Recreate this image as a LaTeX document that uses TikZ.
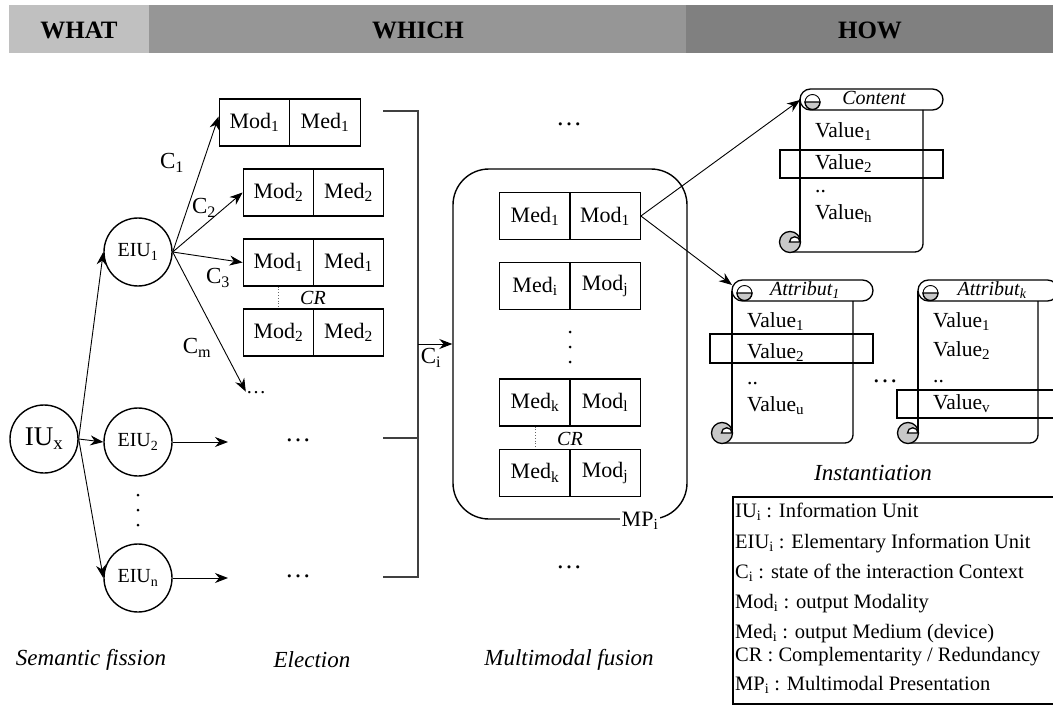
\documentclass[tikz,border=0pt]{standalone}
\usepackage{fontspec}
\setmainfont{Liberation Serif}
\usetikzlibrary{arrows.meta,calc}
\newcommand\fsz[1]{\fontsize{#1}{#1}\selectfont}
\newcommand\sub[1]{\textsubscript{#1}}
\definecolor{bandA}{HTML}{C0C0C0}
\definecolor{bandB}{HTML}{969696}
\definecolor{bandC}{HTML}{808080}
\definecolor{curl}{HTML}{C8C8C8}
% scroll: L T R B CapR
\newcommand\scrollshape[5]{%
  \draw[scrl, rounded corners=10.5pt] (#1,#2) rectangle (#5,#2+21);
  \draw[scrl] (#1,#2+10.5) -- (#1,#4-10);
  \draw[scrl, rounded corners=8pt] (#3,#2+21) -- (#3,#4) -- (#1-10,#4);
  \filldraw[scrl, fill=curl] (#1-10,#4-10) circle[radius=10.5];
  \filldraw[scrl, fill=white] (#1-10.5,#4-10) arc[start angle=180,end angle=360,radius=5.25] -- cycle;
  \draw[line width=0.9pt] (#1+12.5,#2+13) circle[radius=7.5];
  \filldraw[scrl, fill=curl] (#1+5,#2+13) arc[start angle=180,end angle=0,radius=7.5] -- cycle;
}
\begin{document}
\begin{tikzpicture}[x=1pt,y=-1pt,
  cell/.style={draw, line width=1.3pt, minimum width=70.5pt, minimum height=47pt, inner sep=0pt, font=\fsz{22}},
  unit/.style={draw, line width=1.4pt, circle, minimum size=68pt, inner sep=0pt},
  arr/.style={line width=1pt, -{Stealth[length=13pt,width=10pt]}},
  thinarr/.style={line width=0.9pt, -{Stealth[length=13pt,width=10pt]}},
  scrl/.style={line width=1.3pt},
  brk/.style={line width=1.2pt, black!75},
  lbl/.style={font=\fsz{23}, inner sep=0pt},
  captxt/.style={font=\fsz{23}\itshape, inner sep=0pt},
  hdr/.style={font=\fsz{25}\bfseries, inner sep=0pt},
  val/.style={font=\fsz{21.5}, anchor=mid west, inner sep=0pt},
  leg/.style={font=\fsz{20.5}, anchor=mid west, inner sep=0pt},
  dts/.style={font=\fsz{26}, inner sep=0pt},
  crl/.style={font=\fsz{20}\itshape, inner sep=0pt},
  ttl/.style={font=\fsz{20}\itshape, inner sep=0pt},
  hl/.style={line width=1.3pt}
]
\useasboundingbox (0,0) rectangle (1053,706);
% header band
\fill[bandA] (9,5) rectangle (149,53);
\fill[bandB] (149,5) rectangle (686,53);
\fill[bandC] (686,5) rectangle (1053,53);
\node[hdr] (hwhat) at (79,30) {WHAT};
\node[hdr] (hwhich) at (418,30) {WHICH};
\node[hdr] (hhow) at (870,30) {HOW};

% fission
\node[unit, font=\fsz{27}] (iux) at (44,439) {IU\sub{x}};
\node[unit, font=\fsz{20}] (e1) at (138,252) {EIU\sub{1}};
\node[unit, font=\fsz{20}] (e2) at (138,442) {EIU\sub{2}};
\node[unit, font=\fsz{20}] (en) at (138,578) {EIU\sub{n}};
\foreach \yy in {495,510,525} \fill (138,\yy) circle[radius=1.5];
\draw[thinarr] (iux.east) -- (e1.west);
\draw[thinarr] (iux.east) -- (e2.west);
\draw[thinarr] (iux.east) -- (en.west);

% election
\node[cell] (a1l) at (254.5,122.5) {Mod\sub{1}};
\node[cell] (a1r) at (325,122.5) {Med\sub{1}};
\node[cell] (a2l) at (278.5,192.5) {Mod\sub{2}};
\node[cell] (a2r) at (348.5,192.5) {Med\sub{2}};
\node[cell] (a3l) at (278.5,262.5) {Mod\sub{1}};
\node[cell] (a3r) at (348.5,262.5) {Med\sub{1}};
\node[cell] (a4l) at (278.5,332.5) {Mod\sub{2}};
\node[cell] (a4r) at (348.5,332.5) {Med\sub{2}};
\draw[dotted, line width=0.8pt, black!60] (a3l.south) -- (a4l.north);
\node[crl] (cr1) at (313,298) {CR};
\node[dts, font=\fsz{20}] (ed1) at (256,393) {\ldots};
\draw[thinarr] (e1.east) -- ($(a1l.west)+(0,-6)$);
\draw[thinarr] (e1.east) -- (a2l.west);
\draw[thinarr] (e1.east) -- (a3l.west);
\draw[thinarr] (e1.east) -- (ed1.north west);
\node[lbl] (c1) at (172,163) {C\sub{1}};
\node[lbl] (c2) at (204,208) {C\sub{2}};
\node[lbl] (c3) at (218,278) {C\sub{3}};
\node[lbl] (cm) at (197,348) {C\sub{m}};
\coordinate (t2) at (228,442);
\coordinate (tn) at (228,578);
\draw[arr] (e2.east) -- (t2);
\draw[arr] (en.east) -- (tn);
\node[dts] (ed2) at (298,440) {\ldots};
\node[dts] (edn) at (298,576) {\ldots};

% bracket
\coordinate (b1) at (383,111);
\coordinate (b2) at (418,111);
\coordinate (b3) at (418,577);
\coordinate (b4) at (383,577);
\coordinate (b5) at (383,438);
\coordinate (b6) at (418,438);
\coordinate (b7) at (418,344);
\draw[brk] (b1) -- (b2) -- (b3) -- (b4);
\draw[brk] (b5) -- (b6);

% fusion
\node[draw, line width=1.4pt, rounded corners=36pt, minimum width=234pt, minimum height=350pt, inner sep=0pt] (mp) at (570,344) {};
\draw[arr] (b7) -- (mp.west);
\node[lbl] (ci) at (431,358) {C\sub{i}};
\node[font=\fsz{22}, fill=white, inner sep=2pt] (mpl) at (640,521) {MP\sub{i}};
\node[cell] (f1l) at (535,216) {Med\sub{1}};
\node[cell] (f1r) at (605,216) {Mod\sub{1}};
\node[cell] (f2l) at (535,286) {Med\sub{i}};
\node[cell] (f2r) at (605,286) {Mod\sub{j}};
\foreach \yy in {332,347,362} \fill (570,\yy) circle[radius=1.5];
\node[cell] (f3l) at (535,402.5) {Med\sub{k}};
\node[cell] (f3r) at (605,402.5) {Mod\sub{l}};
\node[cell] (f4l) at (535,473) {Med\sub{k}};
\node[cell] (f4r) at (605,473) {Mod\sub{j}};
\draw[dotted, line width=0.8pt, black!60] (f3l.south) -- (f4l.north);
\node[crl] (cr2) at (570,439) {CR};
\node[dts] (fd1) at (569,124) {\ldots};
\node[dts] (fd2) at (569,567) {\ldots};

% instantiation scrolls
\scrollshape{800}{89}{923}{252}{943}
\scrollshape{732}{280}{853}{443}{873}
\scrollshape{918}{280}{1038}{443}{1058}
\coordinate (sc) at (800,100);
\coordinate (sa) at (732,285);
\draw[thinarr] (f1r.east) -- (sc);
\draw[thinarr] (f1r.east) -- (sa);
\node[ttl] (tc) at (874,98) {Content};
\node[ttl] (ta1) at (805,290) {Attribut\sub{1}};
\node[ttl] (tak) at (992,290) {Attribut\sub{k}};
\node[val] (v11) at (815,135) {Value\sub{1}};
\node[val] (v12) at (815,167) {Value\sub{2}};
\node[val] (v13) at (815,190) {..};
\node[val] (v14) at (815,217) {Value\sub{h}};
\node[val] (v21) at (747,325) {Value\sub{1}};
\node[val] (v22) at (747,356) {Value\sub{2}};
\node[val] (v23) at (747,382) {..};
\node[val] (v24) at (747,409) {Value\sub{u}};
\node[val] (v31) at (933,325) {Value\sub{1}};
\node[val] (v32) at (933,354) {Value\sub{2}};
\node[val] (v33) at (933,380) {..};
\node[val] (v34) at (933,407) {Value\sub{v}};
\draw[hl] (780,150) rectangle (943,178);
\draw[hl] (710,334) rectangle (873,363);
\draw[hl] (897,390) rectangle (1058,418);
\node[dts] (sd) at (885,381) {\ldots};

% captions
\node[captxt] (k1) at (91,660) {Semantic fission};
\node[captxt] (k2) at (312,660) {Election};
\node[captxt] (k3) at (569,660) {Multimodal fusion};
\node[captxt] (k4) at (873,473) {Instantiation};

% legend
\draw[line width=1.3pt] (1053,497) -- (733,497) -- (733,704) -- (1053,704);
\node[leg] (l1) at (735,515) {IU\sub{i} : Information Unit};
\node[leg] (l2) at (735,546) {EIU\sub{i} : Elementary Information Unit};
\node[leg] (l3) at (735,576) {C\sub{i} : state of the interaction Context};
\node[leg] (l4) at (735,606) {Mod\sub{i} : output Modality};
\node[leg] (l5) at (735,636) {Med\sub{i} : output Medium (device)};
\node[leg] (l6) at (735,659) {CR : Complementarity / Redundancy};
\node[leg] (l7) at (735,688) {MP\sub{i} : Multimodal Presentation};
\end{tikzpicture}
\end{document}
